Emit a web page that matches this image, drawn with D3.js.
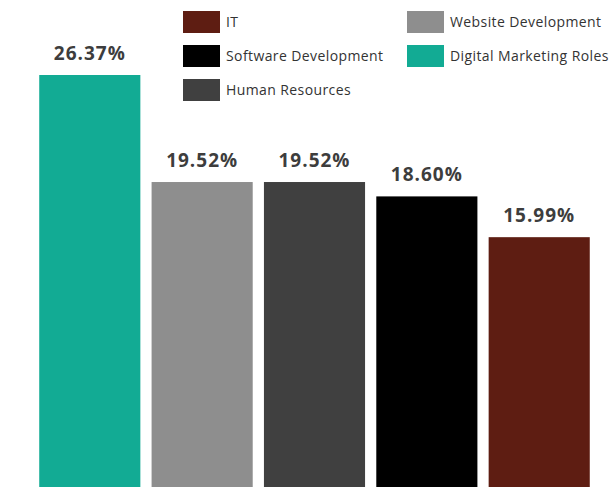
<!DOCTYPE html>
<html lang="en">
<head>
<meta charset="utf-8">
<title>Roles share</title>
<script src="https://cdn.jsdelivr.net/npm/d3@7"></script>
<style>
  body { margin: 0; background: #fff; }
  .val { font-family: 'Open Sans', sans-serif; font-weight: 700; font-size: 19px; letter-spacing: 1px; fill: #3d3d3d; }
  .legend text { font-family: 'Open Sans', sans-serif; font-size: 14px; letter-spacing: 0.4px; fill: #333; }
</style>
</head>
<body>
<svg id="chart" width="616" height="487"></svg>
<script>
// data
var roles = ["Digital Marketing Roles", "Website Development", "Human Resources", "Software Development", "IT"];
var shares = [26.37, 19.52, 19.52, 18.60, 15.99];
var labels = ["26.37%", "19.52%", "19.52%", "18.60%", "15.99%"];
var colors = ["#12ab94", "#8e8e8e", "#404040", "#000000", "#5e1d12"];
var legendOrder = ["IT", "Software Development", "Human Resources", "Website Development", "Digital Marketing Roles"];

var svg = d3.select("#chart"),
    width = +svg.attr("width"),
    height = +svg.attr("height");

var x = d3.scaleBand()
    .domain(roles)
    .range([28, 601])
    .paddingInner(0.1)
    .paddingOuter(0.1);

var y = d3.scaleLinear()
    .domain([0, 26.37])
    .range([487, 75]);

var color = d3.scaleOrdinal().domain(roles).range(colors);

var rows = roles.map(function(r, i) { return { role: r, value: shares[i], label: labels[i] }; });

svg.selectAll("rect.bar")
    .data(rows)
  .enter().append("rect")
    .attr("class", "bar")
    .attr("x", function(d) { return x(d.role); })
    .attr("y", function(d) { return y(d.value); })
    .attr("width", x.bandwidth())
    .attr("height", function(d) { return y(0) - y(d.value); })
    .attr("fill", function(d) { return color(d.role); });

svg.selectAll("text.val")
    .data(rows)
  .enter().append("text")
    .attr("class", "val")
    .attr("text-anchor", "middle")
    .attr("x", function(d) { return x(d.role) + x.bandwidth() / 2; })
    .attr("y", function(d) { return y(d.value) - 15; })
    .text(function(d) { return d.label; });

// legend, two columns
var legend = svg.append("g").attr("class", "legend");
var item = legend.selectAll("g")
    .data(legendOrder)
  .enter().append("g")
    .attr("transform", function(d, i) {
      var col = i < 3 ? 0 : 1, row = i < 3 ? i : i - 3;
      return "translate(" + (col ? 407 : 183) + "," + (11 + row * 34) + ")";
    });

item.append("rect")
    .attr("width", 37)
    .attr("height", 22)
    .attr("fill", function(d) { return color(d); });

item.append("text")
    .attr("x", 43)
    .attr("y", 16)
    .text(function(d) { return d; });
</script>
</body>
</html>
